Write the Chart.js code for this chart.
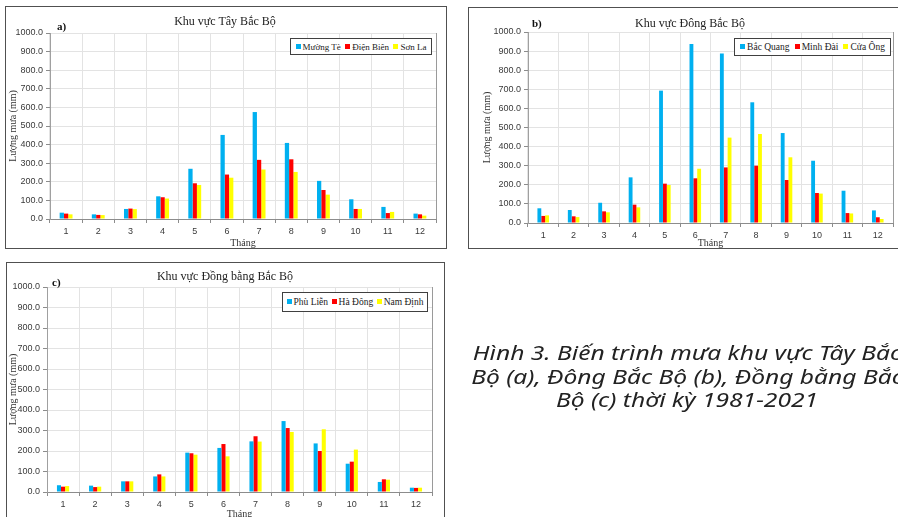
<!DOCTYPE html>
<html>
<head>
<meta charset="utf-8">
<script src="https://cdn.jsdelivr.net/npm/chart.js"></script>
<style>
body { margin: 0; width: 898px; height: 517px; overflow: hidden; position: relative; background: #fff; }
canvas { position: absolute; }
.frame { position: absolute; border: 1.5px solid #505050; box-sizing: border-box; pointer-events: none; }
.ttl { position: absolute; width: 300px; text-align: center; font: 12px "Liberation Serif"; color: #222; line-height: 14px; }
.tag { position: absolute; font: bold 11px "Liberation Serif"; color: #111; line-height: 12px; }
.leg { position: absolute; border: 1px solid #404040; box-sizing: border-box; display: flex; align-items: center;
       justify-content: space-evenly; font: 9px "Liberation Serif"; color: #222; background: #fff; white-space: nowrap; }
.leg span.sw { display: inline-block; width: 5px; height: 5px; margin-right: 2px; vertical-align: middle; position: relative; top: -1px; }
.caption { position: absolute; left: 437px; width: 500px; top: 341px; text-align: center;
           font: italic 20px "Noto Sans"; line-height: 23.5px; color: #222; white-space: nowrap;
           transform: scaleX(1.23); transform-origin: 250px 0; }
</style>
</head>
<body>

<canvas id="chartA" style="left:5px;top:6px"></canvas>
<canvas id="chartB" style="left:468px;top:7px"></canvas>
<canvas id="chartC" style="left:6px;top:262px"></canvas>

<div class="frame" style="left:5px;top:6px;width:442px;height:243px"></div>
<div class="frame" style="left:468px;top:7px;width:440px;height:242px"></div>
<div class="frame" style="left:6px;top:262px;width:439px;height:270px"></div>

<div class="ttl" style="left:75px;top:14px">Khu vực Tây Bắc Bộ</div>
<div class="ttl" style="left:540px;top:16px">Khu vực Đông Bắc Bộ</div>
<div class="ttl" style="left:75px;top:269px">Khu vực Đồng bằng Bắc Bộ</div>

<div class="tag" style="left:57px;top:20px">a)</div>
<div class="tag" style="left:532px;top:17px">b)</div>
<div class="tag" style="left:52px;top:276px">c)</div>

<div class="leg" id="legA" style="left:290px;top:38px;width:142px;height:17px"></div>
<div class="leg" id="legB" style="left:734px;top:38px;width:157px;height:18px;font-size:9.5px"></div>
<div class="leg" id="legC" style="left:282px;top:292px;width:146px;height:20px;font-size:9.5px"></div>

<div class="caption">Hình 3. Biến trình mưa khu vực Tây Bắc<br>Bộ (a), Đông Bắc Bộ (b), Đồng bằng Bắc<br>Bộ (c) thời kỳ 1981-2021</div>

<script>
// Data (mm)
const months = ['1', '2', '3', '4', '5', '6', '7', '8', '9', '10', '11', '12'];
const yMax = 1000;
const yStep = 100;

const tayBacStations = ['Mường Tè', 'Điện Biên', 'Sơn La'];
const muongTe = [34, 25, 54, 122, 270, 452, 575, 409, 205, 106, 65, 29];
const dienBien = [29, 22, 56, 117, 192, 239, 318, 321, 156, 54, 32, 25];
const sonLa = [25, 21, 53, 110, 183, 222, 266, 253, 131, 54, 38, 18];

const dongBacStations = ['Bắc Quang', 'Minh Đài', 'Cửa Ông'];
const bacQuang = [77, 68, 106, 239, 693, 937, 887, 632, 471, 326, 169, 66];
const minhDai = [37, 35, 61, 96, 206, 234, 291, 300, 225, 157, 52, 30];
const cuaOng = [40, 31, 56, 82, 199, 284, 447, 466, 344, 154, 50, 21];

const dongBangStations = ['Phù Liễn', 'Hà Đông', 'Nam Định'];
const phuLien = [33, 31, 52, 76, 192, 215, 247, 346, 237, 138, 49, 21];
const haDong = [26, 24, 52, 86, 189, 234, 272, 312, 200, 148, 62, 20];
const namDinh = [29, 26, 52, 76, 182, 174, 246, 293, 306, 207, 60, 21];

const colors = ['#00B0F0', '#FF0000', '#FFFF00'];

// right edge of the plot area
const rightEdge = {
    id: 'rightEdge',
    afterDraw(chart) {
        const { ctx, chartArea: a } = chart;
        ctx.save();
        ctx.strokeStyle = '#9a9a9a';
        ctx.lineWidth = 1;
        ctx.beginPath();
        ctx.moveTo(Math.round(a.right) + 0.5, a.top);
        ctx.lineTo(Math.round(a.right) + 0.5, a.bottom);
        ctx.stroke();
        ctx.restore();
    }
};

function makeLegend(id, stations) {
    document.getElementById(id).innerHTML = stations.map((s, i) =>
        `<span><span class="sw" style="background:${colors[i]}"></span>${s}</span>`).join('');
}

function makeChart(id, stations, series, g) {
    const cv = document.getElementById(id);
    cv.width = g.w;
    cv.height = g.h;
    const tickFont = { family: 'Liberation Sans', size: 9 };
    const titleFont = { family: 'Liberation Serif', size: 10 };

    new Chart(cv, {
        type: 'bar',
        data: {
            labels: months,
            datasets: series.map((d, i) => ({
                label: stations[i],
                data: d,
                backgroundColor: colors[i],
                barPercentage: 1,
                categoryPercentage: g.cat
            }))
        },
        options: {
            responsive: false,
            animation: false,
            layout: { padding: { left: 0, top: g.t, right: g.w - g.r, bottom: 0 } },
            plugins: { legend: { display: false }, tooltip: { enabled: false } },
            scales: {
                x: {
                    grid: { color: '#e3e3e3', tickLength: 4, tickColor: '#8c8c8c' },
                    border: { color: '#8c8c8c' },
                    ticks: { font: tickFont, color: '#3a3a3a', padding: 3, maxRotation: 0 },
                    title: { display: true, text: 'Tháng', font: titleFont, color: '#333', padding: 0 },
                    afterFit: s => { s.height = g.h - g.b; }
                },
                y: {
                    min: 0,
                    max: yMax,
                    ticks: { stepSize: yStep, callback: v => v.toFixed(1), font: tickFont, color: '#3a3a3a', padding: 3 },
                    grid: { color: '#e3e3e3', tickLength: 4, tickColor: '#8c8c8c' },
                    border: { color: '#a0a0a0' },
                    title: { display: true, text: 'Lượng mưa (mm)', font: titleFont, color: '#333', padding: { top: g.yt, bottom: 0 } },
                    afterFit: s => { s.width = g.l; }
                }
            }
        },
        plugins: [rightEdge]
    });
}

makeChart('chartA', tayBacStations, [muongTe, dienBien, sonLa],
    { w: 442, h: 243, l: 45, t: 27, r: 431, b: 213, cat: 0.4, yt: 2 });
makeChart('chartB', dongBacStations, [bacQuang, minhDai, cuaOng],
    { w: 432, h: 242, l: 60, t: 25, r: 425, b: 216, cat: 0.38, yt: 13 });
makeChart('chartC', dongBangStations, [phuLien, haDong, namDinh],
    { w: 439, h: 258, l: 41, t: 25, r: 426, b: 230, cat: 0.38, yt: 1 });

makeLegend('legA', tayBacStations);
makeLegend('legB', dongBacStations);
makeLegend('legC', dongBangStations);
</script>
</body>
</html>
